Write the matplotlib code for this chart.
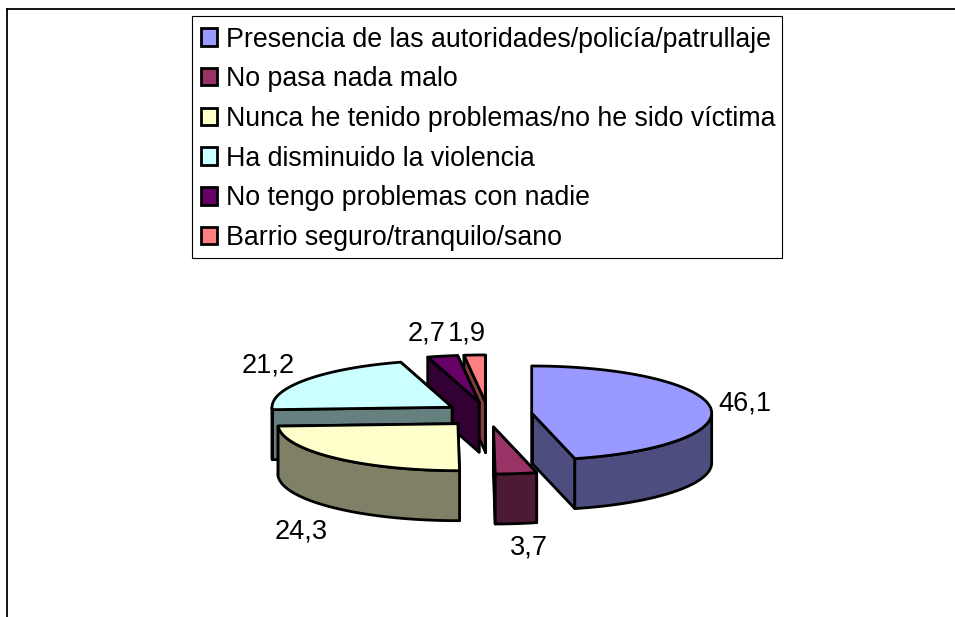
import numpy as np
import matplotlib
matplotlib.use('Agg')
import matplotlib.pyplot as plt
from matplotlib.patches import Patch, Polygon, Rectangle

plt.rcParams['font.family'] = ['Liberation Sans', 'DejaVu Sans']

labels = ['Presencia de las autoridades/policía/patrullaje',
          'No pasa nada malo',
          'Nunca he tenido problemas/no he sido víctima',
          'Ha disminuido la violencia',
          'No tengo problemas con nadie',
          'Barrio seguro/tranquilo/sano']
values = [46.1, 3.7, 24.3, 21.2, 2.7, 1.9]
value_labels = ['46,1', '3,7', '24,3', '21,2', '2,7', '1,9']
top_colors = ['#9999FF', '#993366', '#FFFFCC', '#CCFFFF', '#660066', '#FF8080']
side_colors = ['#4D4D80', '#4D1A33', '#808066', '#668080', '#330033', '#804040']

# pie geometry, in pixels
cx, cy = 488, 414.5
rx, ry = 180, 47
ex, ey = 44, 12.6
depth = 50

label_pos = [(745, 404), (529, 548), (301, 532), (268, 366), (427, 333), (467, 333)]

fig = plt.figure(figsize=(9.55, 6.17), dpi=100)
ax = fig.add_axes([0, 0, 1, 1])
ax.set_xlim(0, 955)
ax.set_ylim(617, 0)
ax.axis('off')

# chart frame: top and left only, the rest is cropped
ax.plot([6.5, 955], [8.5, 8.5], color='black', lw=1.3)
ax.plot([6.5, 6.5], [8.5, 617], color='black', lw=1.3)

fracs = np.cumsum([0] + values) / sum(values) * 2 * np.pi


def point(c, a, r=1.0):
    return (c[0] + r * rx * np.sin(a), c[1] - r * ry * np.cos(a))


def draw_wedge(i):
    a0, a1 = fracs[i], fracs[i + 1]
    mid = (a0 + a1) / 2
    c = (cx + ex * np.sin(mid), cy - ey * np.cos(mid))
    t = np.linspace(a0, a1, 80)
    arc = np.column_stack(point(c, t))
    kw = dict(edgecolor='black', lw=2, joinstyle='round')
    # radial side faces, the closing one first
    for a in (a1, a0):
        p = point(c, a)
        ax.add_patch(Polygon([c, p, (p[0], p[1] + depth), (c[0], c[1] + depth)],
                             facecolor=side_colors[i], **kw))
    # outer face, only the part turned to the viewer
    front = t[(t >= np.pi / 2) & (t <= 3 * np.pi / 2)]
    if len(front) > 1:
        fa = np.column_stack(point(c, front))
        ax.add_patch(Polygon(np.vstack([fa, (fa + [0, depth])[::-1]]),
                             facecolor=side_colors[i], **kw))
    ax.add_patch(Polygon(np.vstack([c, arc]), facecolor=top_colors[i], **kw))


for i in [5, 4, 3, 0, 1, 2]:
    draw_wedge(i)

for txt, pos in zip(value_labels, label_pos):
    ax.text(pos[0], pos[1], txt, fontsize=19.6, ha='center', va='center')

# legend box drawn apart so its padding can differ from the text padding
ax.add_patch(Rectangle((192.3, 16.3), 589.5, 241.5, facecolor='white', edgecolor='black', lw=0.8))
handles = [Patch(facecolor=c, edgecolor='black', lw=2) for c in top_colors]
ax.legend(handles, labels, loc='upper left', bbox_to_anchor=(192, 18),
          bbox_transform=ax.transData, fontsize=19.3, frameon=False,
          borderaxespad=0, borderpad=0.32,
          labelspacing=0.51, handlelength=0.62, handleheight=0.62, handletextpad=0.32)

fig.savefig('out.png', dpi=100)
